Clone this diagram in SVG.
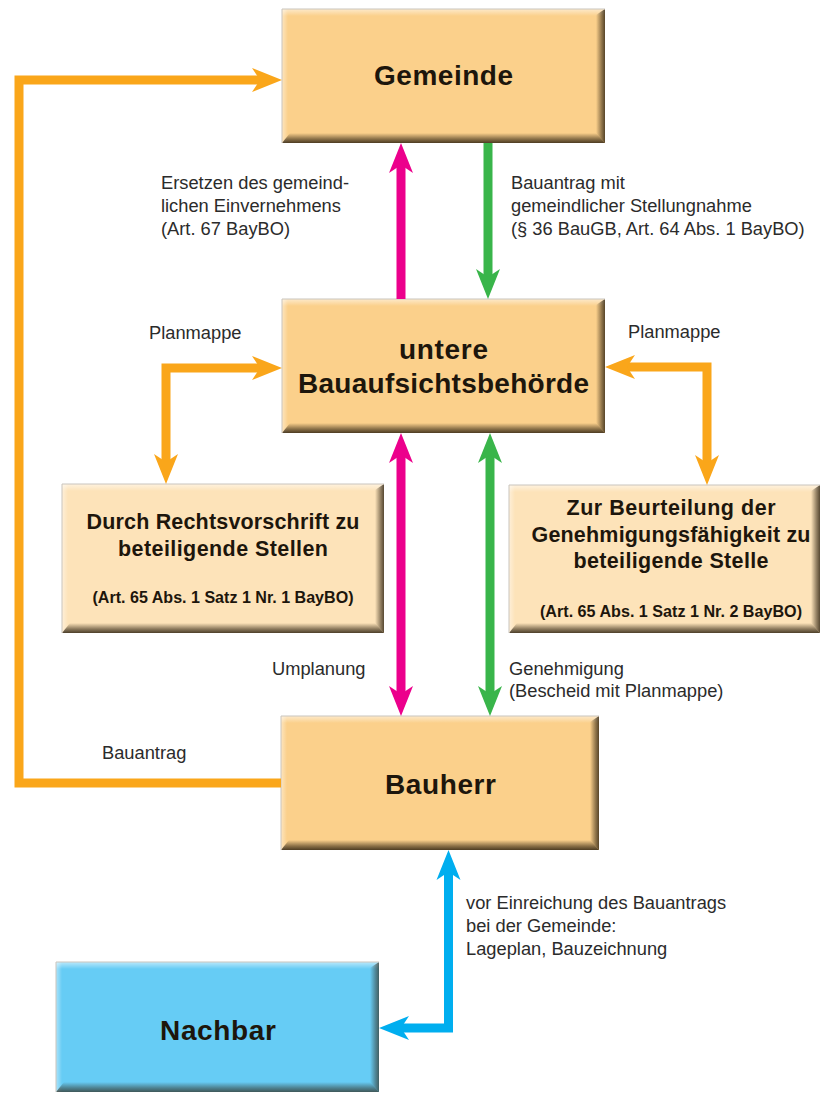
<svg xmlns="http://www.w3.org/2000/svg" width="822" height="1093" viewBox="0 0 822 1093">
<style>
.lbl{font-family:"Liberation Sans",Arial,sans-serif;font-size:18.3px;fill:#2b2b2b}
.ttl{font-family:"Liberation Sans",Arial,sans-serif;font-weight:bold;font-size:28px;fill:#1d160c;text-anchor:middle}
.sub{font-family:"Liberation Sans",Arial,sans-serif;font-weight:bold;font-size:21.5px;fill:#1d160c;text-anchor:middle}
.ref{font-family:"Liberation Sans",Arial,sans-serif;font-weight:bold;font-size:16px;fill:#1d160c;text-anchor:middle}
.c{fill:none;stroke-width:9;stroke-linejoin:miter;stroke-linecap:butt}
.hT{fill:url(#hlT)}
.hL{fill:url(#hlL)}
.sB{fill:url(#shB)}
.sR{fill:url(#shR)}
.edge{fill:none;stroke:#c9c4bc;stroke-width:1}
</style>
<defs>
<linearGradient id="hlT" x1="0" y1="0" x2="0" y2="1"><stop offset="0" stop-color="#ffffff" stop-opacity="0.55"/><stop offset="1" stop-color="#ffffff" stop-opacity="0"/></linearGradient>
<linearGradient id="hlL" x1="0" y1="0" x2="1" y2="0"><stop offset="0" stop-color="#ffffff" stop-opacity="0.45"/><stop offset="1" stop-color="#ffffff" stop-opacity="0"/></linearGradient>
<linearGradient id="shB" x1="0" y1="0" x2="0" y2="1"><stop offset="0" stop-color="#2e2210" stop-opacity="0"/><stop offset="0.6" stop-color="#2e2210" stop-opacity="0.55"/><stop offset="1" stop-color="#2e2210" stop-opacity="0.85"/></linearGradient>
<linearGradient id="shR" x1="0" y1="0" x2="1" y2="0"><stop offset="0" stop-color="#2e2210" stop-opacity="0"/><stop offset="0.6" stop-color="#2e2210" stop-opacity="0.5"/><stop offset="1" stop-color="#2e2210" stop-opacity="0.8"/></linearGradient>
<marker id="aO" markerUnits="userSpaceOnUse" orient="auto-start-reverse" refX="0" refY="0" markerWidth="40" markerHeight="30" overflow="visible"><path d="M-8,-12 L22,0 L-8,12 L0,0 Z" fill="#FAA61A"/></marker>
<marker id="aM" markerUnits="userSpaceOnUse" orient="auto-start-reverse" refX="0" refY="0" markerWidth="40" markerHeight="30" overflow="visible"><path d="M-8,-12 L22,0 L-8,12 L0,0 Z" fill="#EC008C"/></marker>
<marker id="aG" markerUnits="userSpaceOnUse" orient="auto-start-reverse" refX="0" refY="0" markerWidth="40" markerHeight="30" overflow="visible"><path d="M-8,-12 L22,0 L-8,12 L0,0 Z" fill="#39B54A"/></marker>
<marker id="aB" markerUnits="userSpaceOnUse" orient="auto-start-reverse" refX="0" refY="0" markerWidth="40" markerHeight="30" overflow="visible"><path d="M-8,-12 L22,0 L-8,12 L0,0 Z" fill="#00AEEF"/></marker>
</defs>
<rect x="0" y="0" width="822" height="1093" fill="#ffffff"/>

<g id="gemeinde">
<rect x="282" y="9" width="323" height="134" fill="#FBD08B"/>
<rect class="hT" x="282" y="9" width="323" height="7"/>
<rect class="hL" x="282" y="9" width="6" height="134"/>
<polygon class="sR" points="596,15 605,9 605,143 596,133"/>
<polygon class="sB" points="290,133 596,133 605,143 282,143"/>
<path class="edge" d="M282,143 V9 H605"/>
<text class="ttl" x="443.5" y="85" textLength="139" lengthAdjust="spacing">Gemeinde</text>
</g>

<g id="uba">
<rect x="282" y="299" width="323" height="134" fill="#FBD08B"/>
<rect class="hT" x="282" y="299" width="323" height="7"/>
<rect class="hL" x="282" y="299" width="6" height="134"/>
<polygon class="sR" points="596,305 605,299 605,433 596,423"/>
<polygon class="sB" points="290,423 596,423 605,433 282,433"/>
<path class="edge" d="M282,433 V299 H605"/>
<text class="ttl" x="443.5" y="359" textLength="89" lengthAdjust="spacing">untere</text>
<text class="ttl" x="443.5" y="393" textLength="291" lengthAdjust="spacing">Bauaufsichtsbehörde</text>
</g>

<g id="stellen-links">
<rect x="62" y="484" width="322" height="149" fill="#FDE3B9"/>
<rect class="hT" x="62" y="484" width="322" height="7"/>
<rect class="hL" x="62" y="484" width="6" height="149"/>
<polygon class="sR" points="375,490 384,484 384,633 375,623"/>
<polygon class="sB" points="70,623 375,623 384,633 62,633"/>
<path class="edge" d="M62,633 V484 H384"/>
<text class="sub" x="223" y="529" textLength="273" lengthAdjust="spacing">Durch Rechtsvorschrift zu</text>
<text class="sub" x="223" y="556" textLength="210" lengthAdjust="spacing">beteiligende Stellen</text>
<text class="ref" x="223" y="603" textLength="261" lengthAdjust="spacingAndGlyphs">(Art. 65 Abs. 1 Satz 1 Nr. 1 BayBO)</text>
</g>

<g id="stellen-rechts">
<rect x="509" y="485" width="311" height="148" fill="#FDE3B9"/>
<rect class="hT" x="509" y="485" width="311" height="7"/>
<rect class="hL" x="509" y="485" width="6" height="148"/>
<polygon class="sR" points="811,491 820,485 820,633 811,623"/>
<polygon class="sB" points="517,623 811,623 820,633 509,633"/>
<path class="edge" d="M509,633 V485 H820"/>
<text class="sub" x="671" y="515" textLength="209" lengthAdjust="spacing">Zur Beurteilung der</text>
<text class="sub" x="671" y="542" textLength="279" lengthAdjust="spacing">Genehmigungsfähigkeit zu</text>
<text class="sub" x="671" y="568" textLength="195" lengthAdjust="spacing">beteiligende Stelle</text>
<text class="ref" x="671" y="617" textLength="262" lengthAdjust="spacingAndGlyphs">(Art. 65 Abs. 1 Satz 1 Nr. 2 BayBO)</text>
</g>

<g id="bauherr">
<rect x="281" y="716" width="318" height="134" fill="#FBD08B"/>
<rect class="hT" x="281" y="716" width="318" height="7"/>
<rect class="hL" x="281" y="716" width="6" height="134"/>
<polygon class="sR" points="590,722 599,716 599,850 590,840"/>
<polygon class="sB" points="289,840 590,840 599,850 281,850"/>
<path class="edge" d="M281,850 V716 H599"/>
<text class="ttl" x="440.5" y="794" textLength="111" lengthAdjust="spacing">Bauherr</text>
</g>

<g id="nachbar">
<rect x="56" y="962" width="323" height="130" fill="#66CCF5"/>
<rect class="hT" x="56" y="962" width="323" height="7"/>
<rect class="hL" x="56" y="962" width="6" height="130"/>
<polygon points="370,968 379,962 379,1092 370,1082" fill="url(#shR)" opacity="0.8"/>
<polygon points="64,1082 370,1082 379,1092 56,1092" fill="url(#shB)" opacity="0.8"/>
<path class="edge" d="M56,1092 V962 H379"/>
<text class="ttl" x="218" y="1040" textLength="116" lengthAdjust="spacing" fill="#0d1a22">Nachbar</text>
</g>

<g id="connectors">
<path class="c" stroke="#FAA61A" stroke-width="8" d="M281,783 H19 V80 H260" marker-end="url(#aO)"/>
<path class="c" stroke="#EC008C" d="M401,299 V165" marker-end="url(#aM)"/>
<path class="c" stroke="#39B54A" d="M488,143 V277" marker-end="url(#aG)"/>
<path class="c" stroke="#EC008C" d="M401,455 V694" marker-start="url(#aM)" marker-end="url(#aM)"/>
<path class="c" stroke="#39B54A" d="M490,455 V694" marker-start="url(#aG)" marker-end="url(#aG)"/>
<path class="c" stroke="#FAA61A" stroke-width="8" d="M260,368 H166 V462" marker-start="url(#aO)" marker-end="url(#aO)"/>
<path class="c" stroke="#FAA61A" stroke-width="8" d="M627,367 H707 V463" marker-start="url(#aO)" marker-end="url(#aO)"/>
<path class="c" stroke="#00AEEF" d="M448.5,872 V1028 H401" marker-start="url(#aB)" marker-end="url(#aB)"/>
</g>

<g id="labels">
<text class="lbl" x="161" y="189">Ersetzen des gemeind-</text>
<text class="lbl" x="161" y="212">lichen Einvernehmens</text>
<text class="lbl" x="161" y="235">(Art. 67 BayBO)</text>
<text class="lbl" x="511" y="189">Bauantrag mit</text>
<text class="lbl" x="511" y="212">gemeindlicher Stellungnahme</text>
<text class="lbl" x="511" y="235">(§ 36 BauGB, Art. 64 Abs. 1 BayBO)</text>
<text class="lbl" x="149" y="339">Planmappe</text>
<text class="lbl" x="628" y="338">Planmappe</text>
<text class="lbl" x="272" y="675">Umplanung</text>
<text class="lbl" x="509" y="675">Genehmigung</text>
<text class="lbl" x="509" y="697">(Bescheid mit Planmappe)</text>
<text class="lbl" x="102" y="759">Bauantrag</text>
<text class="lbl" x="466" y="909">vor Einreichung des Bauantrags</text>
<text class="lbl" x="466" y="932">bei der Gemeinde:</text>
<text class="lbl" x="466" y="955">Lageplan, Bauzeichnung</text>
</g>
</svg>
